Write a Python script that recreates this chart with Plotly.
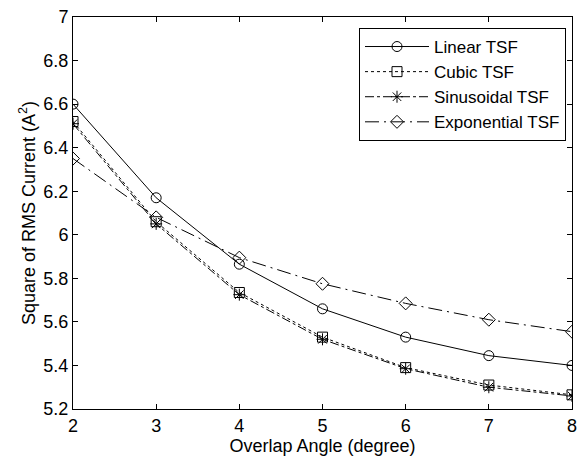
import plotly.graph_objects as go

x = [2, 3, 4, 5, 6, 7, 8]
linear = [6.60, 6.17, 5.865, 5.66, 5.53, 5.445, 5.40]
cubic = [6.52, 6.06, 5.735, 5.53, 5.39, 5.31, 5.265]
sinus = [6.51, 6.05, 5.725, 5.52, 5.385, 5.30, 5.26]
expo = [6.35, 6.08, 5.895, 5.775, 5.685, 5.61, 5.555]

series = [
    ("Linear TSF", linear, "solid", "circle-open"),
    ("Cubic TSF", cubic, "dot", "square-open"),
    ("Sinusoidal TSF", sinus, "dashdot", "asterisk-open"),
    ("Exponential TSF", expo, "14px,5px,2px,5px", "diamond-open"),
]

fig = go.Figure()
for name, y, dash, sym in series:
    fig.add_trace(go.Scatter(
        x=x, y=y, name=name, mode="lines+markers",
        line=dict(color="black", width=1, dash=dash),
        marker=dict(symbol=sym, size=10, color="black", line=dict(color="black", width=1)),
    ))

fam = "Liberation Sans, Arial, sans-serif"
fig.update_layout(
    width=584, height=466,
    margin=dict(l=73, r=7, t=13, b=57),
    plot_bgcolor="white", paper_bgcolor="white",
    font=dict(family=fam, size=18, color="black"),
    showlegend=True,
    legend=dict(x=0.988, y=0.972, xanchor="right", yanchor="top",
                bordercolor="black", borderwidth=1, bgcolor="white",
                font=dict(family=fam, size=17, color="black"),
                itemwidth=64, tracegroupgap=0),
)
fig.update_xaxes(
    range=[2, 8], tickvals=[2, 3, 4, 5, 6, 7, 8],
    ticks="inside", ticklen=5, tickcolor="black", mirror="ticks",
    showline=True, linecolor="black", linewidth=1, showgrid=False, zeroline=False,
    title=dict(text="Overlap Angle (degree)", standoff=3, font=dict(size=18)),
    tickfont=dict(size=18),
)
fig.update_yaxes(
    range=[5.2, 7], tickvals=[5.2, 5.4, 5.6, 5.8, 6, 6.2, 6.4, 6.6, 6.8, 7],
    ticktext=["5.2", "5.4", "5.6", "5.8", "6", "6.2", "6.4", "6.6", "6.8", "7"],
    ticks="inside", ticklen=5, tickcolor="black", mirror="ticks",
    showline=True, linecolor="black", linewidth=1, showgrid=False, zeroline=False,
    title=dict(text="Square of RMS Current (A<sup>2</sup>)", standoff=3, font=dict(size=18)),
    tickfont=dict(size=18),
)
fig.write_html("out.html")
